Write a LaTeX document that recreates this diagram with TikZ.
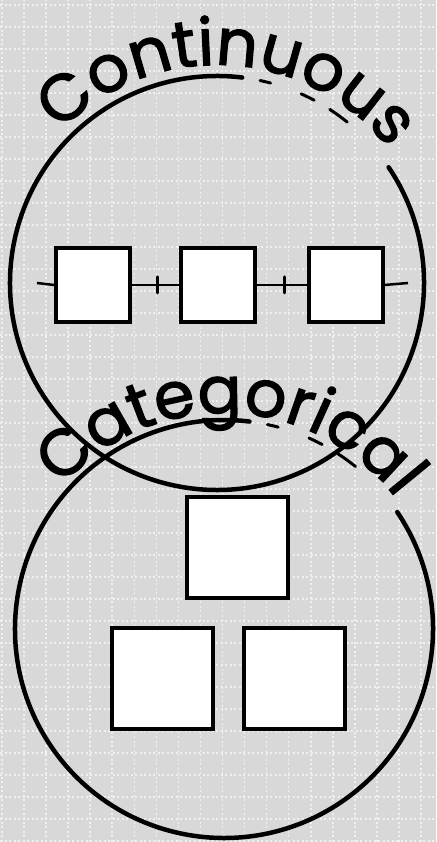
\documentclass[tikz,border=0pt]{standalone}
\usepackage{fontspec}
\newfontfamily\handfont[FakeBold=2]{Poppins}
\usetikzlibrary{calc,decorations.text,shadows}
\definecolor{paper}{RGB}{216,216,216}
\definecolor{dots}{RGB}{240,240,240}
\newcommand{\labfont}{\handfont\fontsize{65}{65}\selectfont}

\begin{document}
\begin{tikzpicture}[x=1pt, y=1pt,
  sq/.style={draw, fill=white, line width=4pt, minimum width=#1, minimum height=#1,
             inner sep=0pt, general shadow={fill=black, shadow xshift=-1.5pt, shadow yshift=-1.5pt}},
  ring/.style={line width=4.5pt, line cap=round},
  chain/.style={line width=2.5pt},
  tickmark/.style={line width=3pt, line cap=round},
  gridline/.style={dots, line width=1.6pt, dash pattern=on 2pt off 2.5pt},
  arclabel/.style={decorate, decoration={text along path, text align=center, text={|\labfont|#1}}}
]
\useasboundingbox (0,0) rectangle (436,842);
% paper and grid
\fill[paper] (0,0) rectangle (436,842);
\foreach \i in {0,...,19} \draw[gridline] (2+22.05*\i,0) -- ++(0,842);
\foreach \k in {0,...,38} \draw[gridline] (0,837-22*\k) -- ++(436,0);

\coordinate (tc) at (217,559);
\coordinate (bc) at (224,213);

% the two rings, open at the upper right
\foreach \c/\r in {tc/207, bc/209} {
  \draw[ring] (\c) ++(34:\r) arc (34:-277:\r);
  \draw[ring, line width=3pt] (\c) ++(78:\r) arc (78:75:\r);
  \draw[ring, line width=3pt] (\c) ++(66:\r) arc (66:62:\r);
  \draw[ring, line width=3pt] (\c) ++(57:\r) arc (57:51:\r);
}

% continuous: boxes on a line
\coordinate (chainL) at (37,559);
\coordinate (chainR) at (408,559);
\node[sq=74pt] (c1) at (93,557) {};
\node[sq=74pt] (c2) at (217.5,557) {};
\node[sq=74pt] (c3) at (345.5,557) {};
\draw[chain] (chainL) -- (c1.west);
\draw[chain] (c1.east) -- (c2.west);
\draw[chain] (c2.east) -- (c3.west);
\draw[chain] (c3.east) -- (chainR);
\draw[tickmark] ($(c1.east)!0.55!(c2.west)$) +(0,8) -- +(0,-8);
\draw[tickmark] ($(c2.east)!0.55!(c3.west)$) +(0,8) -- +(0,-8);

% categorical: loose boxes
\node[sq=101pt] (k1) at (237,294) {};
\node[sq=101pt] (k2) at (162,163) {};
\node[sq=101pt] (k3) at (294.5,163) {};

% labels along the rings
\path[arclabel=Continuous] (tc) ++(142:218) arc (142:32:218);
\path[arclabel=Categorical] (bc) ++(143:216) arc (143:33:216);
\end{tikzpicture}
\end{document}
